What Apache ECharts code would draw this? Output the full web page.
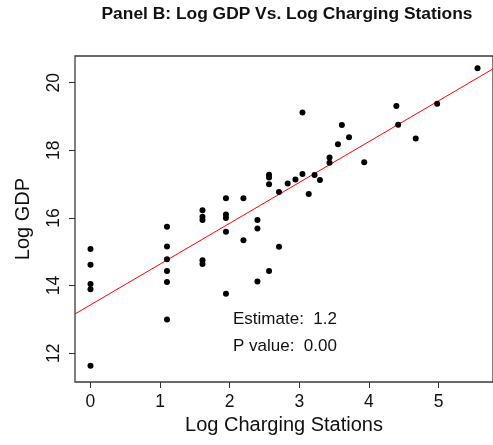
<!DOCTYPE html>
<html><head><meta charset="utf-8">
<script src="https://cdn.jsdelivr.net/npm/echarts@6/dist/echarts.min.js"></script>
<style>html,body{margin:0;padding:0;background:#fff}#c{width:493px;height:445px}</style>
</head><body><div id="c"></div>
<script>
const stationsLog = [0,0,0,0,0,
  1.099,1.099,1.099,1.099,1.099,1.099,
  1.609,1.609,1.609,1.609,1.609,
  1.946,1.946,1.946,1.946,1.946,
  2.197,2.197,
  2.398,2.398,2.398,
  2.565,2.565,2.565,2.565,
  2.708,2.708,
  2.833,2.944,3.045,3.045,3.135,3.219,3.296,3.434,3.434,3.555,3.611,3.714,3.932,4.394,4.42,4.672,4.98,5.56];
const gdpLog = [15.08,14.62,14.05,13.89,11.63,
  15.74,15.16,14.78,14.43,14.11,13.0,
  16.23,16.04,15.94,14.75,14.64,
  16.58,16.1,16.0,15.59,13.76,
  16.58,15.34,
  15.94,15.69,14.12,
  17.28,17.2,17.0,14.43,
  16.77,15.15,
  17.02,17.14,17.30,19.12,16.71,17.27,17.12,17.79,17.63,18.18,18.75,18.39,17.65,19.31,18.76,18.35,19.38,20.43];
const regIntercept = 13.43;
const regSlope = 1.207;
const xTicks = [0,1,2,3,4,5];
const yTicks = [12,14,16,18,20];
const titleText = 'Panel B: Log GDP Vs. Log Charging Stations';
const xName = 'Log Charging Stations';
const yName = 'Log GDP';
const annot = ['Estimate:  1.2', 'P value:  0.00'];

const X_MIN = -0.2224, X_MAX = 5.782, Y_MIN = 11.15, Y_MAX = 20.79;
const FONT = '"Liberation Sans", Arial, Helvetica, sans-serif';

const pts = stationsLog.map((x, i) => [x, gdpLog[i]]);
const regLine = [[X_MIN, regIntercept + regSlope * X_MIN], [X_MAX, regIntercept + regSlope * X_MAX]];

const chart = echarts.init(document.getElementById('c'), null, {renderer: 'canvas'});
chart.setOption({
  backgroundColor: '#fff',
  animation: false,
  textStyle: {fontFamily: FONT},
  grid: {left: 75, top: 56, width: 424, height: 326, show: true, borderColor: '#3a3a3a', borderWidth: 1.3, backgroundColor: 'transparent'},
  xAxis: {
    type: 'value', min: X_MIN, max: X_MAX,
    name: xName, nameLocation: 'middle', nameGap: 26,
    nameTextStyle: {fontSize: 20, color: '#111', fontFamily: FONT},
    axisLine: {show: false, onZero: false},
    splitLine: {show: false},
    axisTick: {show: true, inside: false, length: 6, customValues: xTicks, lineStyle: {color: '#333', width: 1}},
    axisLabel: {show: true, customValues: xTicks, fontSize: 17.5, color: '#111', margin: 11, fontFamily: FONT}
  },
  yAxis: {
    type: 'value', min: Y_MIN, max: Y_MAX,
    name: yName, nameLocation: 'middle', nameGap: 42, nameRotate: 90,
    nameTextStyle: {fontSize: 20, color: '#111', fontFamily: FONT},
    axisLine: {show: false, onZero: false},
    splitLine: {show: false},
    axisTick: {show: true, inside: false, length: 6, customValues: yTicks, lineStyle: {color: '#333', width: 1}},
    axisLabel: {show: true, customValues: yTicks, rotate: 90, fontSize: 17.5, color: '#111', margin: 12, fontFamily: FONT}
  },
  series: [
    {type: 'scatter', data: pts, symbol: 'circle', symbolSize: 6, itemStyle: {color: '#000', opacity: 1}, z: 3},
    {type: 'line', data: regLine, symbol: 'none', lineStyle: {color: '#ff0000', width: 1}, clip: true, z: 2}
  ],
  graphic: [
    {type: 'text', x: 287, y: 14, style: {text: titleText, fill: '#111', font: 'bold 17.4px ' + FONT, textAlign: 'center', textVerticalAlign: 'middle'}},
    {type: 'text', x: 233, y: 319, style: {text: annot[0], fill: '#111', font: '17px ' + FONT, textAlign: 'left', textVerticalAlign: 'middle'}},
    {type: 'text', x: 233, y: 346, style: {text: annot[1], fill: '#111', font: '17px ' + FONT, textAlign: 'left', textVerticalAlign: 'middle'}}
  ]
});
</script></body></html>
